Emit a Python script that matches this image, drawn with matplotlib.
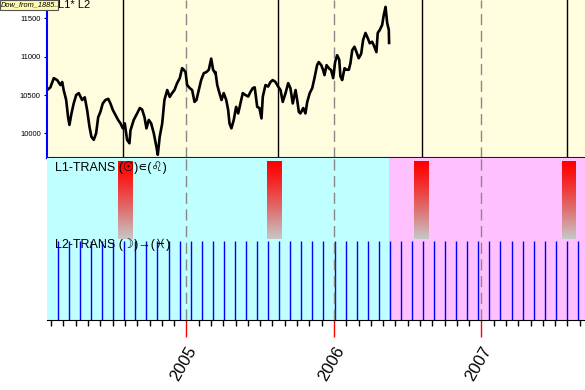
import matplotlib
matplotlib.use('Agg')
import matplotlib.pyplot as plt
import numpy as np

plt.rcParams['font.family'] = ['Liberation Sans', 'DejaVu Sans']

# Dow Jones (decimal year, index value)
dow_t = [2004.056, 2004.078, 2004.101, 2004.124, 2004.146, 2004.158, 2004.168, 2004.185,
         2004.198, 2004.207, 2004.221, 2004.236, 2004.253, 2004.270, 2004.293, 2004.311,
         2004.327, 2004.343, 2004.356, 2004.372, 2004.388, 2004.402, 2004.417, 2004.433,
         2004.451, 2004.470, 2004.485, 2004.501, 2004.519, 2004.537, 2004.553, 2004.569,
         2004.582, 2004.598, 2004.614,
         2004.621, 2004.643, 2004.666, 2004.684, 2004.700, 2004.716, 2004.729, 2004.745,
         2004.761, 2004.779, 2004.797, 2004.806, 2004.819, 2004.836, 2004.851, 2004.870,
         2004.887, 2004.903, 2004.919, 2004.937, 2004.955, 2004.971, 2004.982, 2004.994,
         2005.005, 2005.023, 2005.039, 2005.055, 2005.068, 2005.084, 2005.100, 2005.118,
         2005.136, 2005.152, 2005.168, 2005.181, 2005.195,
         2005.197, 2005.209, 2005.224, 2005.238, 2005.253, 2005.270, 2005.283, 2005.292,
         2005.305, 2005.321, 2005.337, 2005.351, 2005.366, 2005.382, 2005.400, 2005.419,
         2005.434, 2005.450, 2005.463, 2005.480, 2005.495, 2005.509, 2005.518, 2005.536,
         2005.554, 2005.570, 2005.585, 2005.604, 2005.622, 2005.638, 2005.653, 2005.672,
         2005.690, 2005.705, 2005.721, 2005.740, 2005.751, 2005.762,
         2005.773, 2005.792, 2005.807, 2005.819, 2005.836, 2005.853, 2005.868, 2005.886,
         2005.897, 2005.914, 2005.927, 2005.936, 2005.950, 2005.965, 2005.981, 2005.995,
         2006.008, 2006.022, 2006.036, 2006.044, 2006.056, 2006.072, 2006.085, 2006.101,
         2006.112, 2006.124, 2006.139, 2006.153, 2006.168, 2006.185, 2006.198, 2006.214,
         2006.230, 2006.243, 2006.259, 2006.270, 2006.288, 2006.297, 2006.311, 2006.327,
         2006.338, 2006.350, 2006.361, 2006.372, 2006.374]
dow_v = [10565, 10600, 10720, 10695, 10630, 10670, 10565, 10435,
         10210, 10110, 10260, 10390, 10500, 10525, 10435, 10470,
         10305, 10085, 9955, 9915, 10000, 10210, 10280, 10390,
         10435, 10450, 10390, 10305, 10240, 10175, 10130, 10065,
         10130, 9915, 9870,
         10040, 10175, 10260, 10330, 10310, 10210, 10065, 10175,
         10130, 10000, 9820, 9720, 9955, 10130, 10435, 10565,
         10475, 10525, 10565, 10655, 10720, 10850, 10830, 10800,
         10630, 10590, 10565, 10410, 10435, 10565, 10695, 10785,
         10800, 10830, 10975, 10830, 10785,
         10800, 10630, 10525, 10435, 10525, 10435, 10305, 10130,
         10065, 10175, 10345, 10260, 10390, 10525, 10500, 10480,
         10540, 10590, 10600, 10345, 10330, 10195, 10480, 10630,
         10610, 10670, 10695, 10670, 10610, 10565, 10410, 10525,
         10655, 10590, 10390, 10565, 10435, 10280,
         10260, 10330, 10260, 10410, 10525, 10590, 10720, 10890,
         10930, 10890, 10825, 10760, 10890, 10850, 10825, 10720,
         10930, 11020, 10960, 10745, 10695, 10850, 10830, 10830,
         10915, 11085, 11130, 11060, 10980, 11040, 11220, 11310,
         11240, 11175, 11195, 11150, 11060, 11310, 11350, 11415,
         11545, 11650, 11440, 11350, 11180]

# L1: Sun in Leo periods
leo_start = [2004.539, 2005.543, 2006.546, 2007.549]
leo_end = [2004.634, 2005.638, 2006.641, 2007.638]
# black markers in the price panel
mark_t = [2004.573, 2005.624, 2006.600, 2007.583]
# L2: Moon entering Pisces
moon_t = [2004.129, 2004.204, 2004.279, 2004.354, 2004.429, 2004.504, 2004.579, 2004.654,
          2004.729, 2004.804, 2004.879, 2004.954, 2005.029, 2005.104, 2005.179, 2005.254,
          2005.329, 2005.404, 2005.479, 2005.554, 2005.629, 2005.704, 2005.779, 2005.854,
          2005.929, 2006.004, 2006.079, 2006.154, 2006.229, 2006.304, 2006.379, 2006.454,
          2006.529, 2006.604, 2006.679, 2006.754, 2006.829, 2006.904, 2006.979, 2007.054,
          2007.129, 2007.204, 2007.279, 2007.354, 2007.429, 2007.504, 2007.579, 2007.654]
years = [2005, 2006, 2007]
year_labels = ['2005', '2006', '2007']
y_ticks = [10000, 10500, 11000, 11500]
future_start = 2006.372
xlim = (2004.055, 2007.702)

W, H = 585, 390
fig = plt.figure(figsize=(W / 100, H / 100), dpi=100)
ax1 = fig.add_axes([47 / W, 1 - 158 / H, 1 - 47 / W, 158 / H])
ax2 = fig.add_axes([47 / W, 1 - 320 / H, 1 - 47 / W, 162 / H])

# --- price panel ---
ax1.set_facecolor('#FFFDDE')
ax1.set_xlim(*xlim)
ax1.set_ylim(9678, 11740)
for y in years:
    ax1.axvline(y, color='#888888', lw=1, ls=(0, (8, 4)))
for t in mark_t:
    ax1.axvline(t, color='black', lw=1)
ax1.plot(dow_t, dow_v, color='black', lw=1.9)
for s in ['top', 'right']:
    ax1.spines[s].set_visible(False)
for s in ['left', 'bottom']:
    ax1.spines[s].set_color('blue')
    ax1.spines[s].set_linewidth(1.5)
ax1.set_xticks([])
ax1.set_yticks(y_ticks)
ax1.tick_params(axis='y', labelsize=5.5, length=2.5, pad=2, color='black')

# --- transit panel ---
ax2.set_xlim(*xlim)
ax2.set_ylim(0, 162)
ax2.axvspan(xlim[0], future_start, color='#C0FFFF', lw=0)
ax2.axvspan(future_start, xlim[1], color='#FFC0FF', lw=0)

grad = np.linspace(0, 1, 100) ** 1.2
red = np.array([1.0, 0.0, 0.0])
grey = np.array([0.78, 0.78, 0.78])
img = (red[None, :] * (1 - grad[:, None]) + grey[None, :] * grad[:, None])[:, None, :]
for a, b in zip(leo_start, leo_end):
    ax2.imshow(img, extent=[a, b, 81, 159], aspect='auto', zorder=2)

ax2.vlines(moon_t, 0, 79, color='blue', lw=1, zorder=2)
for y in years:
    ax2.axvline(y, color='#888888', lw=1, ls=(0, (8, 4)), zorder=3)

ax2.text(2004.111, 152, 'L1-TRANS (☉)∊(♌)', fontsize=9, va='center', ha='left', zorder=4)
ax2.text(2004.111, 75, 'L2-TRANS (☽)→(♓)', fontsize=9, va='center', ha='left', zorder=4)

for s in ['top', 'right', 'left']:
    ax2.spines[s].set_visible(False)
ax2.spines['bottom'].set_color('black')
ax2.set_yticks([])
ax2.set_xticks(years)
ax2.set_xticklabels(year_labels, rotation=60, ha='right', rotation_mode='anchor', fontsize=12)
months = [y + m / 12 for y in range(2004, 2008) for m in range(1, 12)]
ax2.set_xticks([m for m in months if xlim[0] < m < xlim[1]], minor=True)
ax2.tick_params(axis='x', which='major', length=12, color='red', width=1, pad=5)
ax2.tick_params(axis='x', which='minor', length=4, color='black', width=1)

# top-left tag and layer legend
fig.patches.append(plt.Rectangle((0, 1 - 10 / H), 58 / W, 10 / H, transform=fig.transFigure,
                                 facecolor='#FFFBB0', edgecolor='#555555', lw=0.8, zorder=5))
fig.text(1 / W, 1 - 5 / H, 'Dow_from_1885..', fontsize=5.3, style='italic', va='center', ha='left', zorder=6)
fig.text(58 / W, 1 - 5 / H, 'L1* L2', fontsize=8, va='center', ha='left', zorder=6)

fig.savefig('out.png', dpi=100)
